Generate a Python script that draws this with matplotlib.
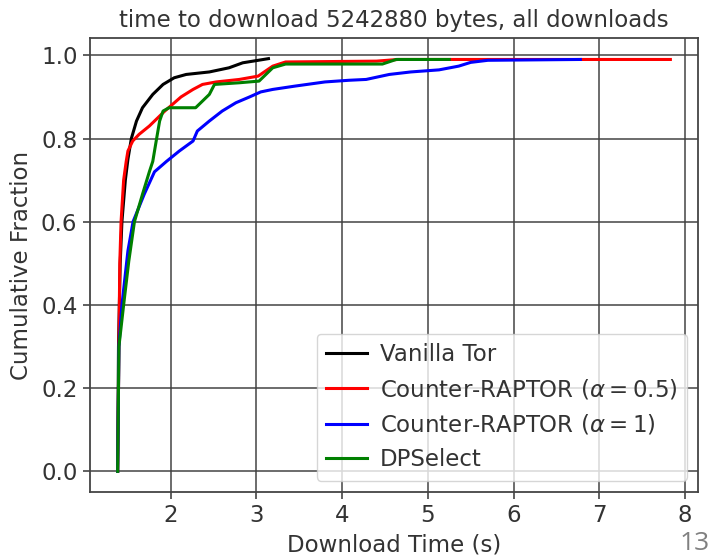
import matplotlib
matplotlib.use("Agg")
import matplotlib.pyplot as plt

# ---- data ----
vanilla_x = [1.38, 1.39, 1.41, 1.43, 1.47, 1.50, 1.54, 1.60, 1.67, 1.79, 1.91, 2.04, 2.18, 2.45, 2.68, 2.84, 2.99, 3.14]
vanilla_y = [0.00, 0.30, 0.50, 0.60, 0.70, 0.75, 0.80, 0.842, 0.874, 0.906, 0.93, 0.946, 0.954, 0.96, 0.97, 0.982, 0.987, 0.992]

cr05_x = [1.38, 1.395, 1.405, 1.42, 1.45, 1.48, 1.50, 1.556, 1.63, 1.75, 1.85, 1.93, 2.02, 2.12, 2.26, 2.37, 2.53, 2.80, 3.02, 3.19, 3.34, 4.40, 4.65, 7.83]
cr05_y = [0.00, 0.30, 0.50, 0.60, 0.70, 0.745, 0.77, 0.794, 0.81, 0.83, 0.85, 0.866, 0.882, 0.90, 0.918, 0.93, 0.936, 0.942, 0.95, 0.974, 0.984, 0.986, 0.99, 0.99]

cr1_x = [1.38, 1.395, 1.43, 1.50, 1.56, 1.69, 1.81, 1.95, 2.10, 2.26, 2.31, 2.45, 2.60, 2.76, 2.92, 3.05, 3.19, 3.45, 3.80, 4.08, 4.28, 4.55, 4.80, 5.13, 5.36, 5.50, 5.70, 6.78]
cr1_y = [0.00, 0.30, 0.40, 0.53, 0.60, 0.666, 0.72, 0.745, 0.77, 0.794, 0.818, 0.842, 0.866, 0.886, 0.90, 0.912, 0.918, 0.926, 0.936, 0.94, 0.942, 0.954, 0.96, 0.965, 0.974, 0.983, 0.988, 0.99]

dps_x = [1.38, 1.395, 1.45, 1.51, 1.576, 1.67, 1.75, 1.79, 1.83, 1.87, 1.91, 1.98, 2.29, 2.45, 2.51, 2.80, 3.03, 3.19, 3.34, 4.47, 4.63, 5.25]
dps_y = [0.00, 0.30, 0.40, 0.505, 0.60, 0.666, 0.72, 0.745, 0.794, 0.842, 0.866, 0.874, 0.874, 0.906, 0.93, 0.934, 0.938, 0.97, 0.979, 0.979, 0.99, 0.99]

labels = ["Vanilla Tor", r"Counter-RAPTOR ($\alpha = 0.5$)", r"Counter-RAPTOR ($\alpha = 1$)", "DPSelect"]
colors = ["black", "red", "blue", "green"]

title = "time to download 5242880 bytes, all downloads"
xlabel = "Download Time (s)"
ylabel = "Cumulative Fraction"

FS = 16.5
TXT = "#333333"
plt.rcParams["font.family"] = ["DejaVu Sans"]
plt.rcParams["mathtext.fontset"] = "dejavusans"

fig = plt.figure(figsize=(7.19, 5.57), dpi=100)
ax = fig.add_axes([90 / 719, 1 - 492 / 557, 608 / 719, 454 / 557])

series = [(vanilla_x, vanilla_y), (cr05_x, cr05_y), (cr1_x, cr1_y), (dps_x, dps_y)]
for (xs, ys), lab, c in zip(series, labels, colors):
    ax.plot(xs, ys, color=c, lw=2.2, label=lab)

ax.margins(x=0.05, y=0.05)
ax.set_xticks([2, 3, 4, 5, 6, 7, 8])
ax.set_yticks([0.0, 0.2, 0.4, 0.6, 0.8, 1.0])
ax.grid(True, color="#404040", lw=1.2, alpha=0.9)
ax.set_axisbelow(True)
for s in ax.spines.values():
    s.set_color("#444444")
    s.set_linewidth(1.3)
ax.tick_params(labelsize=FS, colors="#444444", labelcolor=TXT, length=5, width=1.2, pad=4)
ax.set_title(title, fontsize=FS, color=TXT, pad=8)
ax.set_xlabel(xlabel, fontsize=FS, color=TXT, labelpad=4)
ax.set_ylabel(ylabel, fontsize=FS, color=TXT, labelpad=6)

leg = ax.legend(loc="lower right", fontsize=FS, framealpha=0.8, edgecolor="#cccccc",
                handlelength=1.8, handletextpad=0.55)
for t in leg.get_texts():
    t.set_color(TXT)

fig.text(680 / 719, 0.001, "13", fontsize=19, color="#808080", family=["Open Sans", "DejaVu Sans"],
         ha="left", va="bottom")

fig.savefig("out.png", dpi=100)
